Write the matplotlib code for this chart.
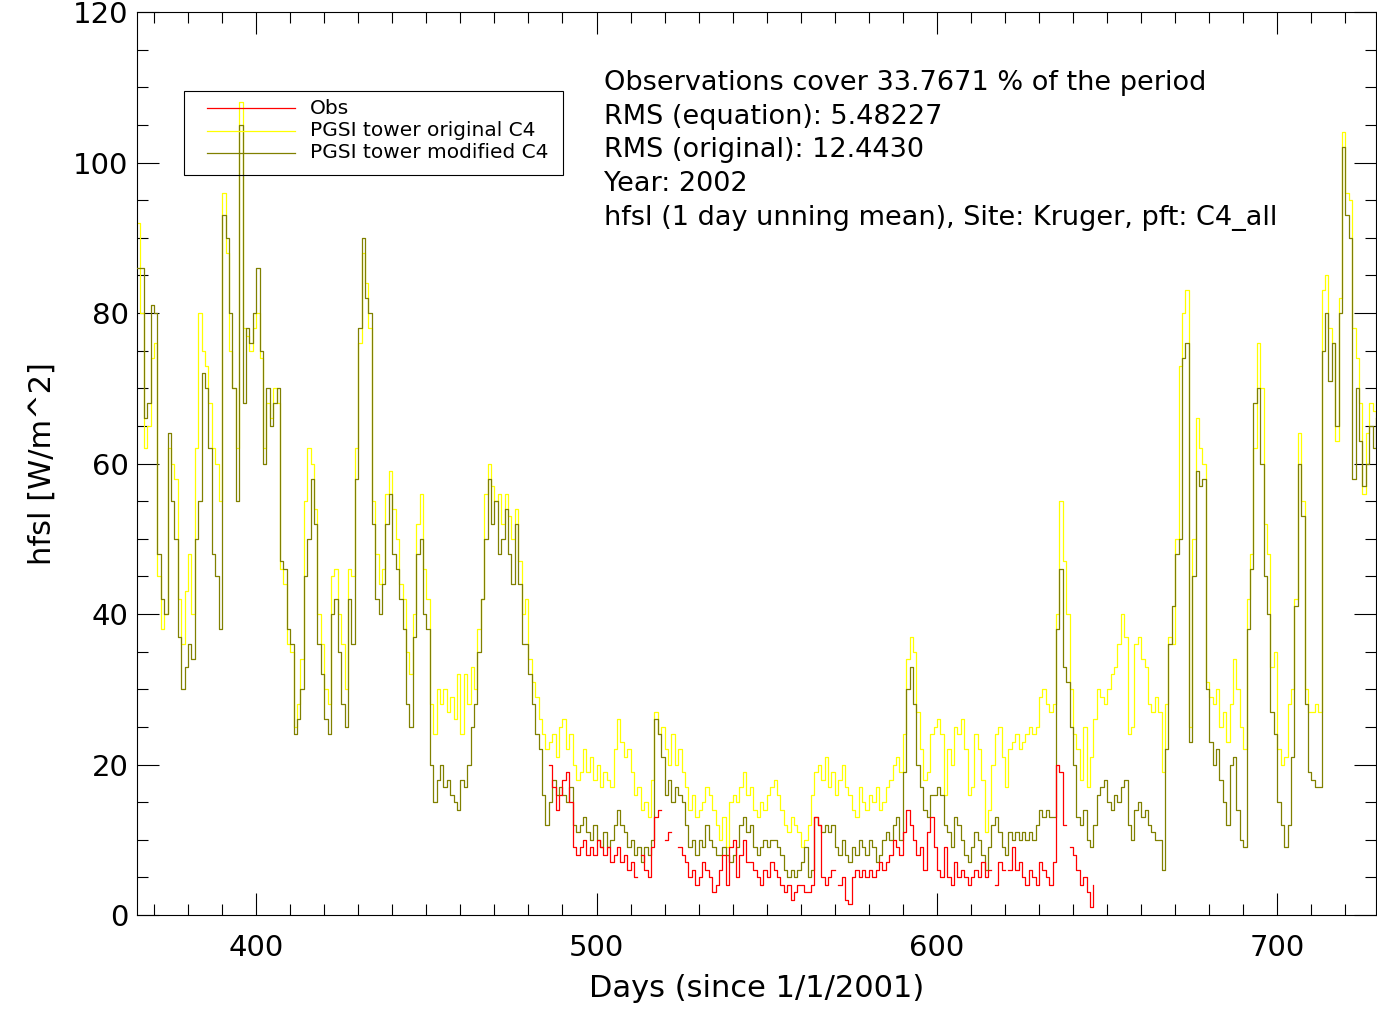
import numpy as np
import matplotlib
matplotlib.use("Agg")
import matplotlib.pyplot as plt
from matplotlib.patches import Rectangle
from matplotlib.lines import Line2D

# daily values, day 365 .. 729 (since 1/1/2001)
days = np.arange(365, 730)

hfsl_modified = [
    86, 86, 66, 68, 81, 80, 48, 42, 40, 64,
    55, 50, 37, 30, 33, 36, 34, 50, 55, 72,
    70, 62, 48, 45, 38, 93, 90, 80, 70, 55,
    105, 68, 78, 76, 80, 86, 75, 60, 70, 65,
    68, 70, 47, 46, 38, 36, 24, 26, 30, 45,
    50, 58, 52, 36, 32, 26, 24, 40, 42, 35,
    28, 25, 42, 36, 58, 78, 90, 82, 80, 52,
    42, 40, 44, 52, 56, 48, 46, 42, 38, 28,
    25, 37, 48, 50, 40, 38, 20, 15, 18, 20,
    17, 18, 16, 15, 14, 18, 17, 20, 25, 28,
    35, 42, 50, 58, 52, 55, 48, 50, 54, 48,
    44, 52, 44, 36, 36, 32, 28, 24, 22, 16,
    12, 15, 18, 16, 17, 16, 15, 17, 12, 11,
    12, 13, 11, 10, 12, 10, 9, 11, 9, 10,
    12, 14, 12, 11, 9, 10, 8, 9, 7, 9,
    8, 10, 26, 24, 21, 16, 18, 15, 17, 16,
    15, 12, 9, 10, 8, 10, 9, 12, 10, 9,
    8, 8, 9, 8, 7, 8, 9, 12, 13, 11,
    12, 9, 8, 9, 10, 9, 10, 10, 9, 8,
    6, 5, 6, 5, 6, 7, 9, 5, 6, 13,
    12, 11, 12, 11, 12, 9, 8, 10, 8, 7,
    9, 8, 10, 9, 8, 10, 9, 7, 8, 10,
    11, 10, 12, 13, 10, 19, 30, 33, 28, 20,
    17, 14, 13, 16, 16, 17, 16, 12, 11, 9,
    13, 12, 10, 8, 7, 9, 11, 10, 8, 6,
    9, 12, 13, 11, 9, 8, 11, 10, 11, 10,
    11, 10, 11, 10, 12, 14, 13, 14, 13, 13,
    38, 46, 33, 31, 25, 20, 13, 12, 14, 10,
    9, 12, 16, 17, 18, 15, 14, 16, 15, 17,
    18, 12, 10, 14, 15, 13, 14, 12, 11, 10,
    10, 6, 22, 36, 41, 48, 50, 74, 76, 23,
    45, 59, 57, 58, 30, 23, 20, 22, 18, 15,
    12, 20, 21, 14, 10, 9, 38, 46, 68, 70,
    60, 45, 40, 27, 24, 15, 12, 9, 12, 21,
    41, 60, 53, 28, 19, 18, 17, 17, 75, 80,
    71, 76, 65, 80, 102, 93, 90, 58, 70, 63,
    57, 60, 65, 62, 66,
]

hfsl_original = [
    92, 80, 62, 65, 74, 76, 45, 38, 40, 62,
    60, 58, 42, 36, 43, 48, 40, 62, 80, 75,
    73, 68, 62, 60, 55, 96, 88, 75, 70, 62,
    108, 78, 77, 75, 78, 80, 74, 62, 68, 66,
    70, 68, 46, 44, 36, 35, 25, 28, 34, 55,
    62, 60, 54, 40, 36, 30, 28, 45, 46, 40,
    36, 30, 46, 45, 62, 76, 88, 84, 78, 55,
    48, 44, 46, 56, 59, 54, 50, 44, 42, 35,
    32, 40, 52, 56, 46, 42, 28, 24, 30, 28,
    30, 27, 29, 26, 32, 24, 32, 28, 33, 30,
    38, 42, 56, 60, 57, 55, 56, 52, 56, 53,
    50, 54, 47, 40, 42, 34, 31, 29, 26, 24,
    22, 23, 24, 21, 25, 26, 22, 24, 20, 18,
    19, 22, 19, 21, 18, 20, 17, 19, 18, 17,
    22, 26, 23, 21, 22, 19, 16, 17, 14, 15,
    13, 18, 27, 24, 25, 22, 20, 24, 20, 22,
    19, 17, 14, 16, 13, 14, 15, 17, 16, 14,
    12, 10, 13, 9, 15, 16, 15, 17, 19, 16,
    17, 14, 13, 15, 14, 16, 17, 18, 16, 14,
    12, 11, 13, 12, 11, 9, 10, 12, 16, 19,
    20, 18, 21, 17, 19, 16, 18, 20, 17, 16,
    14, 13, 17, 15, 14, 16, 15, 17, 14, 15,
    17, 18, 20, 21, 19, 24, 34, 37, 35, 27,
    22, 18, 19, 24, 25, 26, 24, 16, 22, 20,
    25, 24, 26, 22, 16, 17, 24, 22, 18, 11,
    14, 20, 24, 25, 21, 17, 22, 23, 24, 22,
    23, 24, 25, 24, 25, 29, 30, 28, 27, 28,
    40, 55, 47, 40, 30, 24, 22, 18, 25, 17,
    21, 26, 30, 29, 28, 30, 32, 33, 36, 40,
    37, 24, 25, 36, 37, 34, 33, 28, 27, 29,
    27, 19, 28, 37, 36, 50, 73, 80, 83, 25,
    50, 66, 62, 60, 31, 29, 28, 30, 25, 27,
    23, 28, 34, 30, 25, 22, 42, 48, 62, 76,
    70, 52, 48, 33, 35, 22, 20, 21, 28, 30,
    42, 64, 55, 30, 27, 27, 28, 27, 83, 85,
    78, 76, 63, 82, 104, 96, 95, 78, 74, 68,
    56, 64, 68, 67, 65,
]

# observations, day 486 .. 646 (nan = no data)
nan = np.nan
obs_days = np.arange(486, 647)
hfsl_obs = [
    20, 17, 14, 16, 18, 19, 15, 9, 8, 9,
    10, 8, 9, 8, 10, 9, 8, 9, 7, 8,
    9, 7, 8, 6, 7, 5, nan, 8, 6, 5,
    9, 13, 14, nan, 10, 11, nan, nan, 9, 8,
    7, 5, 6, 4, 5, 7, 6, 5, 3, 4,
    6, 8, 4, 9, 10, 5, 8, 10, 7, 7,
    6, 5, 4, 6, 5, 7, 6, 5, 4, 3,
    4, 2, 3, 4, 4, 3, 3, 4, 13, 12,
    5, 4, 5, 6, nan, 4, 5, 2, 1.5, 5,
    6, 5, 6, 5, 6, 5, 6, 7, 6, 7,
    8, 10, 9, 8, 11, 14, 12, 10, 8, 9,
    6, 11, 13, 9, 6, 5, 9, 5, 4, 7,
    5, 6, 5, 4, 5, 6, 5, 7, 5, 6,
    nan, 4, 7, 6, nan, 6, 9, 6, 7, 5,
    4, 6, 5, 4, 7, 6, 5, 4, 7, 20,
    19, 12, nan, 9, 8, 6, 4, 5, 3, 1,
    4,
]

legend_labels = ["Obs", "PGSI tower original C4", "PGSI tower modified C4"]
colors = ['#ff0000', '#ffff00', '#808000']

info_lines = [
    "Observations cover 33.7671 % of the period",
    "RMS (equation): 5.48227",
    "RMS (original): 12.4430",
    "Year: 2002",
    "hfsl (1 day unning mean), Site: Kruger, pft: C4_all",
]

plt.rcParams['font.family'] = ['DejaVu Sans']

W, H = 1377, 1011
fig = plt.figure(figsize=(W / 100, H / 100), dpi=100)
ax = fig.add_axes([137 / W, 1 - 915 / H, 1239 / W, 903 / H])

ax.plot(days, hfsl_original, color=colors[1], lw=0.9, drawstyle='steps-post', zorder=2)
ax.plot(days, hfsl_modified, color=colors[2], lw=0.9, drawstyle='steps-post', zorder=3)
ax.plot(obs_days, hfsl_obs, color=colors[0], lw=0.9, drawstyle='steps-post', zorder=4)

ax.set_xlim(365, 729)
ax.set_ylim(0, 120)
ax.set_xticks([400, 500, 600, 700])
ax.set_xticks(np.arange(370, 730, 10), minor=True)
ax.set_yticks(np.arange(0, 121, 20))
ax.set_yticks(np.arange(0, 121, 5), minor=True)
ax.tick_params(which='both', direction='in', top=True, right=True, width=0.8)
ax.tick_params(which='major', length=16)
ax.tick_params(which='minor', length=8)
ax.tick_params(axis='x', labelsize=21, pad=14)
ax.tick_params(axis='y', labelsize=21, pad=6)
for sp in ax.spines.values():
    sp.set_linewidth(0.8)

ax.set_xlabel("Days (since 1/1/2001)", fontsize=22, labelpad=8)
ax.set_ylabel("hfsl [W/m^2]", fontsize=22, labelpad=12)

# legend box drawn by hand (IDL style, no fill)
fig.add_artist(Rectangle((184 / W, 1 - 175 / H), (563 - 184) / W, 84 / H,
                         transform=fig.transFigure, fill=False,
                         edgecolor='black', lw=0.8))
for i, (lab, c) in enumerate(zip(legend_labels, colors)):
    yy = 1 - (108 + 22.5 * i) / H
    fig.add_artist(Line2D([207 / W, 295 / W], [yy, yy], color=c, lw=0.9,
                          transform=fig.transFigure))
    fig.text(310 / W, yy, lab, fontsize=14.5, ha='left', va='center')

for i, s in enumerate(info_lines):
    fig.text(604 / W, 1 - (83 + 33.7 * i) / H, s, fontsize=19.5,
             ha='left', va='center')

fig.savefig("out.png", dpi=100)
